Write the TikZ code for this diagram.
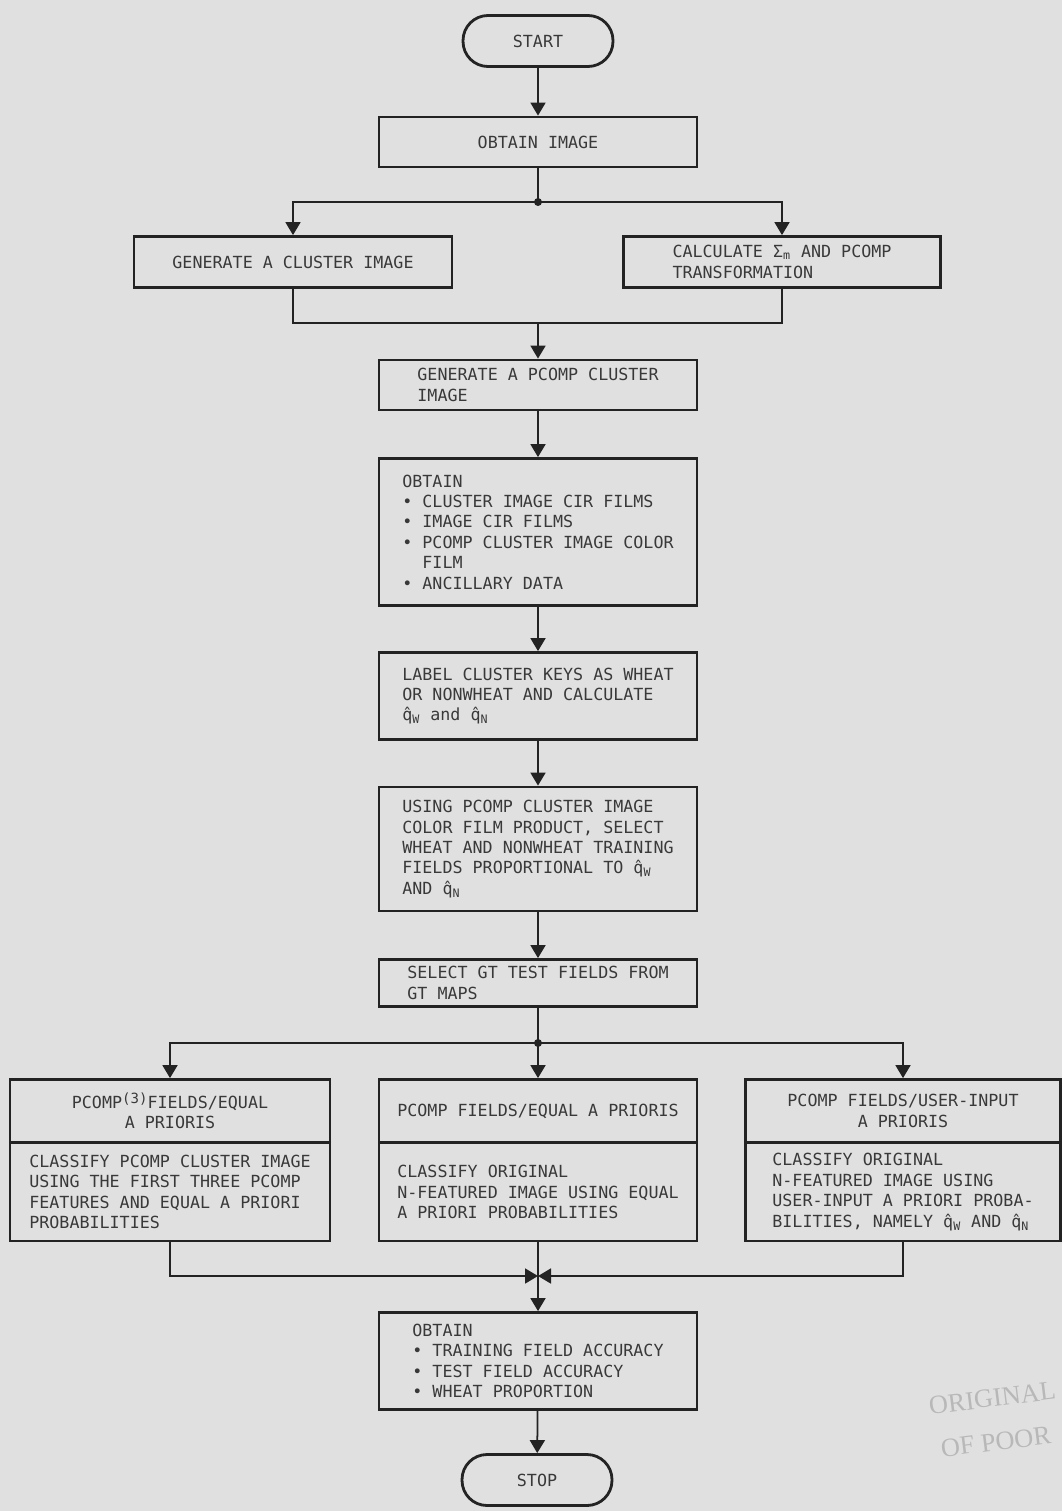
\documentclass[tikz,border=0pt]{standalone}
\usepackage{fontspec}
\setmainfont{DejaVu Sans Mono}
\newfontfamily\stampfont{Liberation Serif}
\usetikzlibrary{arrows.meta}
\definecolor{paper}{RGB}{224,224,224}
\definecolor{ink}{RGB}{35,35,35}

\begin{document}
\begin{tikzpicture}[x=0.02cm,y=-0.02cm,
  box/.style={draw=ink, line width=1.6pt, minimum width=6.36cm, align=left, text=ink!90, font=\fontsize{9.5}{11.6}\selectfont, inner sep=2pt},
  head/.style={box, align=center, minimum height=1.26cm},
  body/.style={box, minimum height=1.96cm},
  term/.style={box, rounded corners=0.5cm, minimum width=3cm, minimum height=1.02cm},
  link/.style={draw=ink, line width=1pt},
  arr/.style={link, -{Triangle[length=0.26cm,width=0.3cm]}}]

\fill[paper] (0,0) rectangle (1062,1511);
\useasboundingbox (0,0) rectangle (1062,1511);

\node[term] (start) at (538,41) {START};
\node[box, minimum height=1cm] (obtimg) at (538,142) {OBTAIN IMAGE};
\node[box, minimum height=1.02cm] (genclus) at (293,262) {GENERATE A CLUSTER IMAGE};
\node[box, minimum width=6.34cm, minimum height=1.02cm] (calc) at (782,262) {CALCULATE Σ\textsubscript{m} AND PCOMP\\TRANSFORMATION};
\node[box, minimum height=1cm] (pcompclus) at (538,385) {GENERATE A PCOMP CLUSTER\\IMAGE};
\node[box, minimum height=2.94cm] (obtfilms) at (538,532) {OBTAIN\\\textbullet{} CLUSTER IMAGE CIR FILMS\\\textbullet{} IMAGE CIR FILMS\\\textbullet{} PCOMP CLUSTER IMAGE COLOR\\\ \ FILM\\\textbullet{} ANCILLARY DATA};
\node[box, minimum height=1.74cm] (labkeys) at (538,696) {LABEL CLUSTER KEYS AS WHEAT\\OR NONWHEAT AND CALCULATE\\\^{q}\textsubscript{W} and \^{q}\textsubscript{N}};
\node[box, minimum height=2.48cm] (selfields) at (538,849) {USING PCOMP CLUSTER IMAGE\\COLOR FILM PRODUCT, SELECT\\WHEAT AND NONWHEAT TRAINING\\FIELDS PROPORTIONAL TO \^{q}\textsubscript{W}\\AND \^{q}\textsubscript{N}};
\node[box, minimum height=0.94cm] (gtfields) at (538,983) {SELECT GT TEST FIELDS FROM\\GT MAPS};

\node[head, minimum width=6.4cm] (ltop) at (170,1111) {PCOMP{\fontsize{8}{8}\selectfont\raisebox{0.6ex}{(3)}}FIELDS/EQUAL\\A PRIORIS};
\node[body, minimum width=6.4cm] (lbody) at (170,1192) {CLASSIFY PCOMP CLUSTER IMAGE\\USING THE FIRST THREE PCOMP\\FEATURES AND EQUAL A PRIORI\\PROBABILITIES};
\node[head] (mtop) at (538,1111) {PCOMP FIELDS/EQUAL A PRIORIS};
\node[body] (mbody) at (538,1192) {CLASSIFY ORIGINAL\\N-FEATURED IMAGE USING EQUAL\\A PRIORI PROBABILITIES};
\node[head, minimum width=6.3cm] (rtop) at (903,1111) {PCOMP FIELDS/USER-INPUT\\A PRIORIS};
\node[body, minimum width=6.3cm] (rbody) at (903,1192) {CLASSIFY ORIGINAL\\N-FEATURED IMAGE USING\\USER-INPUT A PRIORI PROBA-\\BILITIES, NAMELY \^{q}\textsubscript{W} AND \^{q}\textsubscript{N}};

\node[box, minimum height=1.94cm] (results) at (538,1361) {OBTAIN\\\textbullet{} TRAINING FIELD ACCURACY\\\textbullet{} TEST FIELD ACCURACY\\\textbullet{} WHEAT PROPORTION};
\node[term] (stop) at (537,1480) {STOP};

\coordinate (split1) at (538,202);
\coordinate (merge1) at (538,323);
\coordinate (split2) at (538,1043);
\coordinate (merge2) at (538,1276);

\draw[arr] (start) -- (obtimg);
\draw[link] (obtimg) -- (split1);
\fill[ink] (split1) circle (0.08cm);
\draw[arr] (split1) -| (genclus);
\draw[arr] (split1) -| (calc);
\draw[link] (genclus) |- (merge1) -| (calc);
\draw[arr] (merge1) -- (pcompclus);
\draw[arr] (pcompclus) -- (obtfilms);
\draw[arr] (obtfilms) -- (labkeys);
\draw[arr] (labkeys) -- (selfields);
\draw[arr] (selfields) -- (gtfields);
\draw[link] (gtfields) -- (split2);
\fill[ink] (split2) circle (0.08cm);
\draw[arr] (split2) -| (ltop);
\draw[arr] (split2) -- (mtop);
\draw[arr] (split2) -| (rtop);
\draw[arr] (lbody) |- (merge2);
\draw[arr] (rbody) |- (merge2);
\draw[link] (mbody) -- (merge2);
\draw[arr] (merge2) -- (results);
\draw[arr] (results) -- (stop);

\node[rotate=7, align=left, text=black!28, font=\stampfont\fontsize{15}{25}\selectfont] (stamp) at (995,1420) {ORIGINAL\\\ OF POOR};

\end{tikzpicture}
\end{document}
